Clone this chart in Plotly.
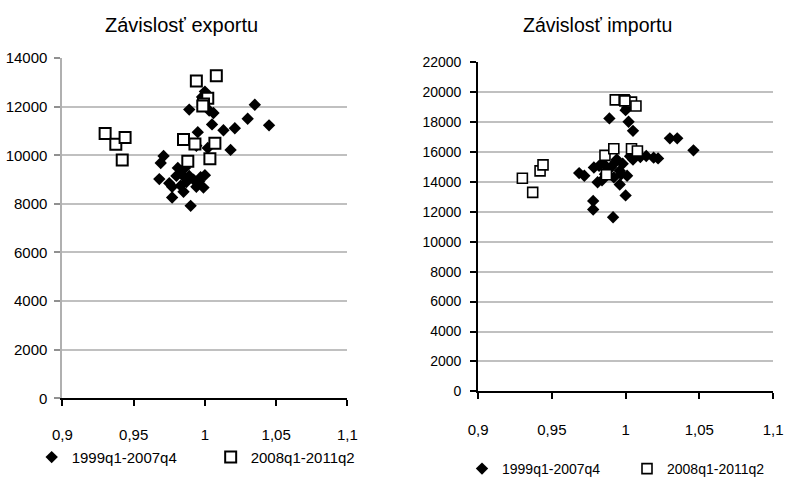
import plotly.graph_objects as go

# ---------------- data ----------------
exp_a_x = [0.989, 1.000, 1.003, 1.006, 1.005, 1.013, 1.021, 1.030, 1.035, 1.045,
           0.995, 1.018, 0.994, 0.971, 0.969, 0.968, 0.981, 0.980, 0.977, 0.977,
           0.990, 0.983, 0.989, 0.996, 1.000, 0.999, 0.994, 0.986, 0.985, 0.992,
           0.975, 0.984, 0.987, 0.997, 1.002, 0.998]
exp_a_y = [11880, 12620, 11840, 11740, 11270, 11030, 11110, 11500, 12080, 11230,
           10950, 10220, 10390, 9970, 9680, 9020, 9480, 9150, 8700, 8260,
           7920, 8750, 9150, 8930, 9180, 8670, 8700, 9480, 8500, 9000,
           8850, 9200, 8900, 9100, 10300, 12400]
exp_b_x = [0.930, 0.9375, 0.944, 0.942, 0.994, 1.008, 1.002, 0.999, 0.985, 0.993,
           1.007, 0.988, 1.0035, 0.9985]
exp_b_y = [10890, 10450, 10730, 9800, 13050, 13270, 12350, 12110, 10650, 10460,
           10490, 9750, 9860, 12030]

imp_a_x = [0.989, 1.002, 1.005, 1.000, 1.001, 1.014, 1.019, 1.022, 1.005, 0.9685,
           0.972, 0.9785, 0.982, 0.981, 0.994, 0.992, 1.001, 0.996, 1.000, 0.978,
           0.978, 0.9915, 0.986, 0.990, 0.996, 1.030, 1.035, 1.046, 0.984, 0.993,
           0.998, 1.003, 0.988, 0.997, 1.010, 0.985]
imp_a_y = [18230, 18010, 17400, 18780, 18930, 15720, 15610, 15560, 15490, 14580,
           14400, 14950, 15060, 13970, 15490, 14290, 14400, 13820, 13090, 12720,
           12150, 11630, 14510, 14950, 14730, 16900, 16900, 16100, 14100, 15300,
           15200, 15700, 14800, 14500, 15650, 15200]
imp_b_x = [0.930, 0.937, 0.942, 0.944, 0.986, 0.992, 1.004, 1.008, 0.987, 0.993,
           0.999, 1.004, 1.007, 0.9995]
imp_b_y = [14230, 13290, 14730, 15130, 15760, 16200, 16200, 16050, 14470, 19470,
           19470, 19320, 19060, 19400]

series_names = ["1999q1-2007q4", "2008q1-2011q2"]
titles = ["Závislosť exportu", "Závislosť importu"]
x_ticks = [0.9, 0.95, 1.0, 1.05, 1.1]
x_ticklabels = ["0,9", "0,95", "1", "1,05", "1,1"]
y_ticks_exp = [0, 2000, 4000, 6000, 8000, 10000, 12000, 14000]
y_ticks_imp = [0, 2000, 4000, 6000, 8000, 10000, 12000, 14000, 16000, 18000, 20000, 22000]

# ---------------- figure ----------------
W, H = 792, 485
FONT = "Liberation Sans, Arial, sans-serif"
fig = go.Figure()

dia = dict(symbol="diamond", size=9.5, color="black", line=dict(width=0))
sq1 = dict(symbol="square", size=11, color="white", line=dict(color="black", width=2))
sq2 = dict(symbol="square", size=10, color="white", line=dict(color="black", width=1.6))

fig.add_trace(go.Scatter(x=exp_a_x, y=exp_a_y, mode="markers", marker=dia,
                         name=series_names[0], xaxis="x", yaxis="y", legend="legend"))
fig.add_trace(go.Scatter(x=exp_b_x, y=exp_b_y, mode="markers", marker=sq1,
                         name=series_names[1], xaxis="x", yaxis="y", legend="legend"))
fig.add_trace(go.Scatter(x=imp_a_x, y=imp_a_y, mode="markers", marker=dia,
                         name=series_names[0], xaxis="x2", yaxis="y2", legend="legend2"))
fig.add_trace(go.Scatter(x=imp_b_x, y=imp_b_y, mode="markers", marker=sq2,
                         name=series_names[1], xaxis="x2", yaxis="y2", legend="legend2"))

grid = "#c0c0c0"
xcommon = dict(range=[0.9, 1.1], tickmode="array", tickvals=x_ticks, ticktext=x_ticklabels,
               showgrid=False, zeroline=False, showline=True, linecolor="black", linewidth=2,
               ticks="outside", ticklen=6, tickcolor="black", tickwidth=1.5, automargin=False,
               tickfont=dict(family=FONT, size=15, color="black"))

fig.update_layout(
    width=W, height=H,
    margin=dict(l=0, r=0, t=0, b=0),
    paper_bgcolor="white", plot_bgcolor="white",
    font=dict(family=FONT, color="black"),
    xaxis=dict(domain=[63 / W, 351 / W], anchor="y", ticklabelstandoff=16, **xcommon),
    yaxis=dict(domain=[1 - 405 / H, 1 - 59 / H], anchor="x", range=[0, 14000],
               tickmode="array", tickvals=y_ticks_exp, tickformat="d", automargin=False,
               showgrid=True, gridcolor=grid, gridwidth=2, zeroline=False,
               showline=True, linecolor="#b0b0b0", linewidth=2,
               ticks="outside", ticklen=6, tickcolor="#909090", tickwidth=1.5,
               ticklabelstandoff=4,
               tickfont=dict(family=FONT, size=15, color="black")),
    xaxis2=dict(domain=[483 / W, 781 / W], anchor="y2", ticklabelstandoff=18, **xcommon),
    yaxis2=dict(domain=[1 - 398 / H, 1 - 63 / H], anchor="x2", range=[0, 22000],
                tickmode="array", tickvals=y_ticks_imp, tickformat="d", automargin=False,
                showgrid=True, gridcolor=grid, gridwidth=2, zeroline=False,
                showline=True, linecolor="black", linewidth=2,
                ticks="outside", ticklen=6, tickcolor="black", tickwidth=1.5,
                ticklabelstandoff=6,
                tickfont=dict(family=FONT, size=14, color="black")),
    legend=dict(orientation="h", x=32 / W, y=1 - 465 / H, xanchor="left", yanchor="middle",
                entrywidth=134, entrywidthmode="pixels", bgcolor="rgba(0,0,0,0)",
                font=dict(family=FONT, size=15, color="black"), itemclick=False),
    legend2=dict(orientation="h", x=467 / W, y=1 - 477 / H, xanchor="left", yanchor="middle",
                 entrywidth=120, entrywidthmode="pixels", bgcolor="rgba(0,0,0,0)",
                 font=dict(family=FONT, size=14, color="black"), itemclick=False),
    annotations=[
        dict(text=titles[0], x=183 / W, y=1 - 25 / H, xref="paper", yref="paper",
             showarrow=False, xanchor="center", yanchor="middle",
             font=dict(family=FONT, size=20, color="black")),
        dict(text=titles[1], x=604 / W, y=1 - 25 / H, xref="paper", yref="paper",
             showarrow=False, xanchor="center", yanchor="middle",
             font=dict(family=FONT, size=19.5, color="black")),
    ],
)

fig.write_html("out.html")
